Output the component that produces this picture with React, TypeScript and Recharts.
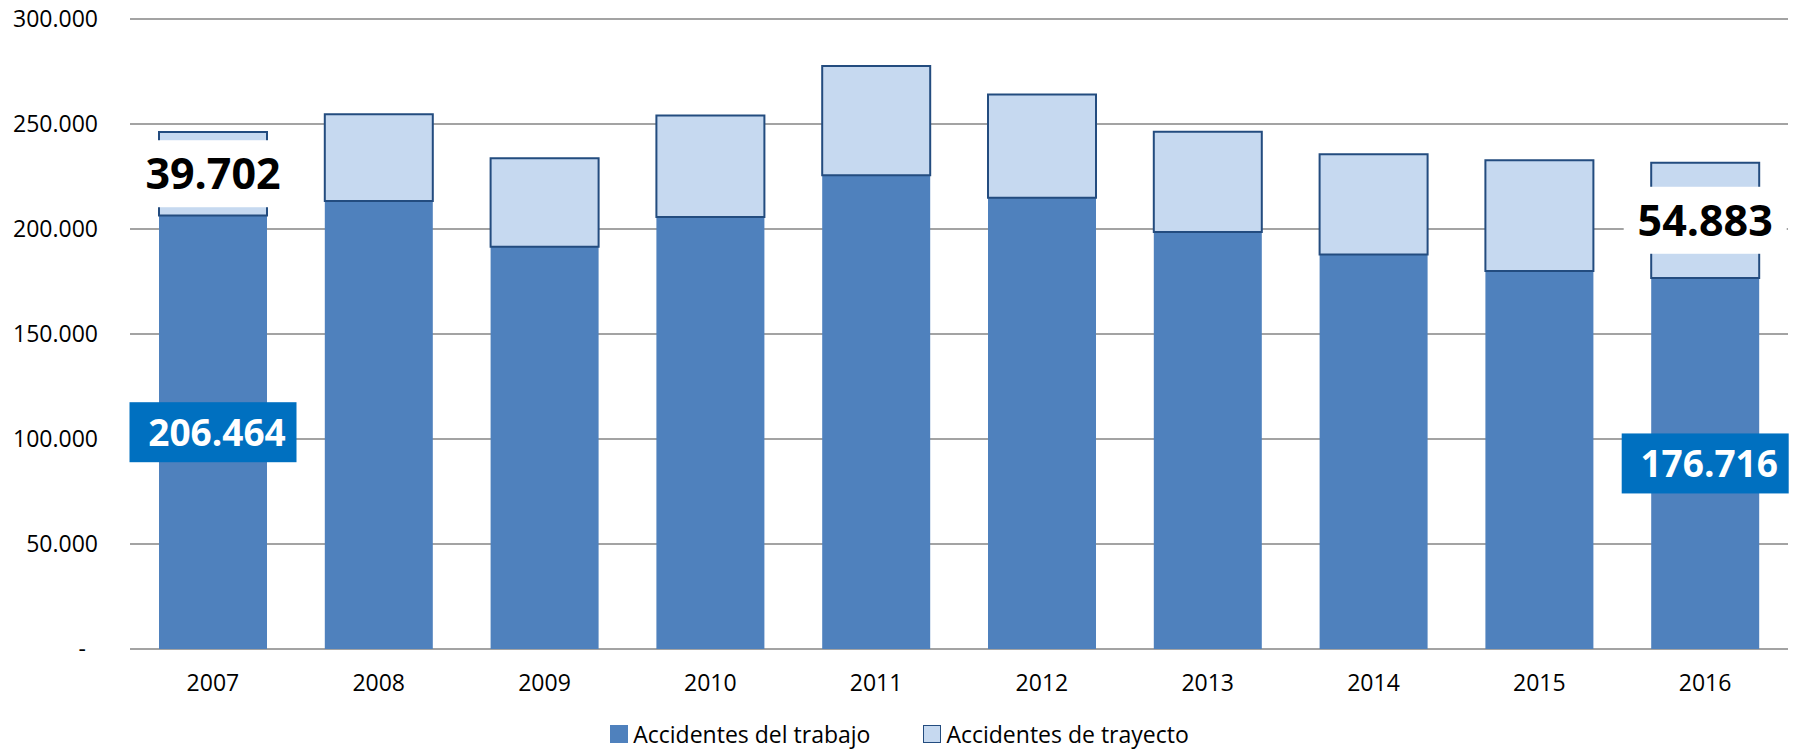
import React from 'react';
import { BarChart, Bar, XAxis, YAxis, CartesianGrid, Legend, LabelList } from 'recharts';

const years = ['2007', '2008', '2009', '2010', '2011', '2012', '2013', '2014', '2015', '2016'];
const trabajo = [206464, 213300, 191600, 205700, 225600, 214900, 198600, 187800, 180000, 176716];
const trayecto = [39702, 41300, 42100, 48400, 52000, 49200, 47700, 47800, 52700, 54883];
const yTicks = [0, 50000, 100000, 150000, 200000, 250000, 300000];
const seriesNames = ['Accidentes del trabajo', 'Accidentes de trayecto'];
const labeledIdx = [0, 9];

const data = years.map((y, i) => ({ year: y, trabajo: trabajo[i], trayecto: trayecto[i] }));

const FONT = "'Open Sans', 'Noto Sans', sans-serif";
const C_TRABAJO = '#4F81BD';
const C_TRAYECTO = '#C6D9F0';
const C_EDGE = '#234C7F';
const C_LABEL = '#0070C0';

function fmt(v: number): string {
  const s = Math.round(v).toString();
  return s.replace(/\B(?=(\d{3})+(?!\d))/g, '.');
}

const YTick = (props: any) => {
  const { x, y, payload } = props;
  const v = payload.value;
  if (v === 0) {
    return (
      <text x={x - 36} y={y} dy="0.36em" textAnchor="end" fontFamily={FONT} fontSize={23} fill="#000">-</text>
    );
  }
  return (
    <text x={x - 24} y={y} dy="0.36em" textAnchor="end" fontFamily={FONT} fontSize={23} fill="#000">{fmt(v)}</text>
  );
};

const XTick = (props: any) => {
  const { x, y, payload } = props;
  return (
    <text x={x} y={y + 34} textAnchor="middle" fontFamily={FONT} fontSize={23} fill="#000">{payload.value}</text>
  );
};

const makeLabel = (arr: number[], kind: 'blue' | 'white') => (props: any) => {
  const { x, y, width, height, index } = props;
  if (!labeledIdx.includes(index)) return null;
  const cx = x + width / 2;
  const cy = y + height / 2;
  if (kind === 'blue') {
    const bw = 167, bh = 60;
    return (
      <g>
        <rect x={cx - bw / 2} y={cy - bh / 2} width={bw} height={bh} fill={C_LABEL} />
        <text x={cx + 4} y={cy} dy="0.36em" textAnchor="middle" fontFamily={FONT} fontWeight="bold" fontSize={37} fill="#fff">{fmt(arr[index])}</text>
      </g>
    );
  }
  const bw = 163, bh = 67;
  return (
    <g>
      <rect x={cx - bw / 2} y={cy - bh / 2} width={bw} height={bh} fill="#fff" />
      <text x={cx} y={cy} dy="0.36em" textAnchor="middle" fontFamily={FONT} fontWeight="bold" fontSize={43} fill="#000">{fmt(arr[index])}</text>
    </g>
  );
};

const LegendContent = () => (
  <div style={{ width: 1799, height: 34, display: 'flex', justifyContent: 'center', alignItems: 'center', fontFamily: FONT, fontSize: 23, color: '#000' }}>
    <div style={{ display: 'flex', alignItems: 'center', marginRight: 53 }}>
      <div style={{ width: 18, height: 18, background: C_TRABAJO, marginRight: 5 }} />
      <span>{seriesNames[0]}</span>
    </div>
    <div style={{ display: 'flex', alignItems: 'center' }}>
      <div style={{ width: 16, height: 16, background: C_TRAYECTO, border: `1px solid ${C_EDGE}`, marginRight: 5 }} />
      <span>{seriesNames[1]}</span>
    </div>
  </div>
);

export default function App() {
  return (
    <div style={{ position: 'absolute', left: 0, top: 0, width: 1799, height: 751, background: '#fff' }}>
      <BarChart width={1799} height={751} data={data} margin={{ top: 19, right: 11, left: 0, bottom: 0 }} barSize={108}>
        <CartesianGrid horizontal vertical={false} stroke="#A3A3A3" strokeWidth={2} />
        <XAxis dataKey="year" height={68} axisLine={false} tickLine={false} tick={<XTick />} interval={0} />
        <YAxis width={130} domain={[0, 300000]} ticks={yTicks} axisLine={false} tickLine={false} tick={<YTick />} interval={0} />
        <Legend verticalAlign="bottom" content={<LegendContent />} wrapperStyle={{ left: 0, width: 1799, height: 34 }} />
        <Bar dataKey="trabajo" stackId="a" fill={C_TRABAJO} isAnimationActive={false} name={seriesNames[0]}>
          <LabelList dataKey="trabajo" content={makeLabel(trabajo, 'blue')} />
        </Bar>
        <Bar dataKey="trayecto" stackId="a" fill={C_TRAYECTO} stroke={C_EDGE} strokeWidth={2} isAnimationActive={false} name={seriesNames[1]}>
          <LabelList dataKey="trayecto" content={makeLabel(trayecto, 'white')} />
        </Bar>
      </BarChart>
    </div>
  );
}
